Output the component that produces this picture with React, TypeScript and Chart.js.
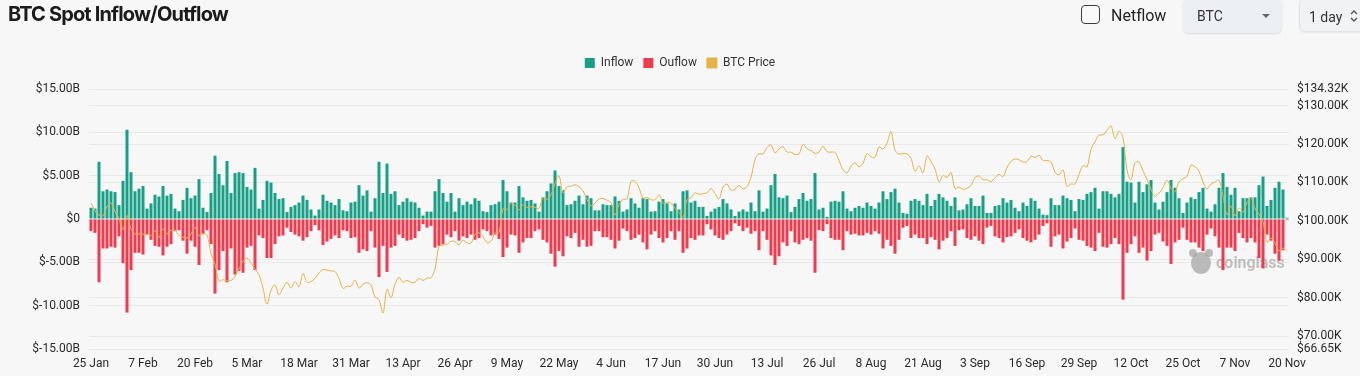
import React, { useEffect, useRef } from 'react';
import { Chart, registerables } from 'chart.js';

Chart.register(...registerables);

// ---------- data ----------
const START_DATE = '2025-01-25';
const MONTH_NAMES = ['Jan', 'Feb', 'Mar', 'Apr', 'May', 'Jun', 'Jul', 'Aug', 'Sep', 'Oct', 'Nov', 'Dec'];

// daily spot inflow, $ billions
const INFLOW = [
  1.3, 1.2, 6.6, 3.2, 3.4, 3.2, 3.1, 1.6, 4.4, 10.3,
  5.4, 3.2, 3.5, 3.8, 1.2, 1.8, 2.8, 2.6, 3.8, 2.7,
  2.9, 1.2, 0.9, 2.2, 3.6, 2.4, 2.7, 4.6, 1.3, 0.8,
  3.0, 7.3, 5.2, 3.9, 6.7, 3.0, 5.3, 5.4, 5.3, 3.7,
  3.4, 5.9, 1.2, 2.2, 4.4, 4.2, 3.0, 2.3, 2.4, 0.8,
  1.4, 1.6, 1.9, 2.7, 2.2, 1.1, 0.4, 1.1, 2.8, 2.1,
  1.9, 1.6, 2.3, 1.0, 0.9, 1.9, 2.0, 3.9,
  2.7, 3.3, 0.85, 2.4, 6.6, 3.0, 6.4, 2.9, 3.2, 1.6,
  2.0, 2.4, 2.0, 1.9, 1.3, 0.4, 0.85, 0.85, 3.2, 4.6,
  3.0, 2.0, 3.0, 0.85, 2.4, 1.6, 2.0, 1.7, 2.4, 2.1,
  0.9, 0.8, 1.6, 1.7, 2.0, 4.5, 3.2, 1.9, 1.9, 3.8,
  2.5, 2.1, 2.2, 1.8, 0.85, 2.5, 3.2, 4.1, 5.6, 3.8,
  3.3, 1.6, 1.7, 2.1, 2.7, 1.7, 2.7, 2.4, 1.0, 1.0,
  1.7, 1.6, 1.6, 2.6, 2.1, 0.85, 1.1, 2.4, 1.8, 1.3,
  2.4, 2.3, 0.85, 0.9, 2.0,
  2.3, 1.8, 0.9, 1.8, 1.1, 3.2, 3.3, 1.9, 2.1, 1.4,
  1.4, 0.35, 0.85, 1.2, 1.4, 2.3, 1.8, 1.1, 0.35, 0.85,
  1.1, 0.85, 1.9, 0.9, 3.3, 0.85, 1.2, 3.9, 5.2, 2.5,
  2.4, 2.7, 0.8, 1.4, 2.3, 3.0, 2.1, 2.3, 5.3, 1.1,
  1.3, 0.25, 2.0, 2.1, 2.0, 3.2, 1.2, 0.9, 1.3, 1.5,
  1.3, 1.9, 1.5, 1.2, 1.9, 3.2, 2.3, 3.1, 3.5, 1.9,
  0.7, 0.6, 2.1, 2.3, 2.1, 1.6, 2.9, 1.5, 2.2, 2.9,
  2.5, 2.1, 1.5, 2.5, 1.0, 1.1,
  1.7, 2.4, 1.5, 1.5, 2.7, 0.7, 0.7, 1.5, 1.6, 2.4,
  1.9, 2.2, 1.3, 0.9, 1.9, 1.5, 2.4, 2.1, 1.2, 0.5,
  0.45, 2.4, 1.6, 1.6, 2.7, 2.4, 2.2, 0.9, 2.3, 2.2,
  2.9, 3.1, 3.6, 1.2, 3.2, 3.2, 2.9, 2.5, 2.9, 8.3,
  4.3, 4.2, 1.9, 4.3, 3.1, 4.0, 4.5, 1.9, 1.1, 2.0,
  3.1, 4.5, 3.6, 2.4, 0.7, 1.9, 2.5, 2.3, 3.1, 3.6,
  1.2, 0.85, 1.7, 3.6, 5.3, 3.7, 2.8, 3.6, 0.9, 2.4,
  2.4, 2.5, 2.5, 3.9,
  4.9, 1.5, 2.2, 3.6, 4.3, 3.4, 0.15,
];

// daily spot outflow, $ billions (negative)
const OUTFLOW = [
  -1.4, -1.6, -7.3, -3.4, -3.4, -3.2, -3.3, -2.0, -5.1, -10.8,
  -5.9, -3.9, -3.9, -4.1, -1.8, -2.4, -3.1, -3.2, -4.2, -3.2,
  -2.9, -1.4, -1.3, -2.5, -4.0, -2.5, -3.2, -5.3, -1.7, -1.3,
  -2.9, -8.6, -5.9, -3.7, -7.3, -3.4, -6.4, -6.0, -6.2, -3.3,
  -3.1, -5.9, -1.9, -2.2, -4.5, -4.5, -2.9, -2.0, -1.9, -1.0,
  -1.5, -1.8, -2.0, -2.5, -2.1, -1.4, -0.7, -1.3, -3.0, -2.6,
  -2.3, -1.9, -2.2, -1.3, -1.4, -2.2, -2.1, -3.9,
  -3.5, -3.7, -1.4, -3.3, -6.7, -3.1, -6.1, -3.3, -3.1, -1.8,
  -2.2, -2.5, -2.4, -2.2, -1.4, -0.6, -1.0, -0.8, -3.3, -3.1,
  -2.9, -1.8, -2.1, -1.4, -2.5, -2.0, -2.2, -1.8, -2.4, -2.2,
  -1.2, -1.4, -1.9, -1.8, -2.3, -4.4, -3.3, -1.8, -1.9, -3.9,
  -2.7, -2.2, -2.2, -1.4, -1.2, -2.4, -2.7, -4.0, -5.5, -3.7,
  -4.3, -2.0, -2.2, -1.6, -3.2, -2.4, -3.2, -3.1, -1.4, -1.4,
  -2.1, -2.1, -2.4, -3.4, -2.5, -1.1, -1.4, -2.4, -2.2, -1.8,
  -2.7, -3.5, -1.8, -1.4, -2.2,
  -2.7, -2.2, -1.4, -2.4, -1.4, -3.9, -3.4, -2.2, -2.4, -1.9,
  -1.9, -0.6, -1.2, -1.9, -2.2, -2.4, -1.8, -1.4, -0.5, -0.8,
  -1.4, -1.0, -1.7, -1.4, -3.6, -1.4, -2.4, -4.2, -5.3, -4.3,
  -2.7, -3.1, -1.4, -2.7, -2.9, -2.4, -2.2, -2.5, -6.2, -1.3,
  -1.4, -0.6, -2.2, -2.4, -2.4, -3.6, -1.4, -1.8, -1.7, -1.9,
  -1.9, -1.6, -1.8, -1.4, -1.7, -3.4, -2.4, -3.1, -4.0, -2.4,
  -1.0, -0.8, -2.2, -1.8, -2.2, -2.2, -2.9, -2.1, -2.4, -3.5,
  -2.5, -2.2, -1.4, -3.1, -1.3, -1.2,
  -2.2, -2.4, -2.0, -2.5, -2.9, -1.0, -0.8, -2.0, -2.2, -2.7,
  -2.1, -2.0, -1.6, -1.2, -2.2, -2.5, -2.7, -2.4, -1.8, -0.8,
  -0.5, -3.2, -2.0, -1.8, -3.4, -2.6, -2.2, -1.1, -2.4, -2.5,
  -3.1, -3.3, -3.7, -1.6, -3.2, -3.3, -2.9, -2.2, -2.9, -9.3,
  -3.9, -2.9, -2.0, -3.9, -3.3, -4.8, -3.7, -1.8, -1.6, -2.6,
  -3.1, -5.2, -2.7, -2.4, -1.0, -2.4, -2.7, -2.7, -3.3, -3.7,
  -1.8, -1.1, -2.0, -3.3, -5.9, -3.3, -3.3, -3.7, -1.6, -2.2,
  -2.7, -2.2, -2.7, -4.5,
  -5.7, -1.8, -2.5, -4.0, -4.8, -3.6, -0.1,
];

// BTC price, $ thousands
const BTC_PRICE = [
  104.7, 102.6, 101.5, 101.3, 103.7, 104.7, 102.4,
  100.6, 97.7, 101.4, 97.9, 96.6, 96.6, 96.5, 96.5, 96.1, 97.4, 95.7, 97.9, 96.6, 97.5, 97.6, 96.2, 95.8, 95.5, 96.6, 98.3, 96.1, 96.6, 96.3, 91.5, 88.7, 84.3, 84.7, 84.4,
  84.5, 85.5, 87.5, 89.5, 90.3, 89.0, 87.5, 86.0, 82.5, 78.3, 82.0, 83.3, 80.8, 82.5, 84.0, 82.5, 84.2, 82.8, 86.3, 84.0, 84.2, 85.0, 86.5, 87.3, 87.2, 87.0, 86.8, 85.0, 82.4, 83.0, 83.0,
  84.6, 82.5, 83.5, 83.9, 83.3, 80.2, 79.5, 76.0, 82.2, 80.0, 83.5, 85.3, 84.0, 84.5, 84.0, 84.0, 85.0, 84.5, 85.1, 85.2, 87.5, 93.4, 93.7, 93.9, 94.7, 94.6, 93.8, 95.0, 94.3, 94.2,
  96.5, 96.9, 95.9, 94.3, 94.7, 96.8, 97.0, 103.2, 102.9, 104.6, 104.1, 102.8, 104.2, 103.5, 103.7, 103.5, 103.2, 106.0, 105.6, 106.8, 109.7, 111.7, 107.3, 108.9, 109.0, 109.4, 108.9, 107.8, 105.6, 103.9, 104.6,
  105.7, 105.8, 105.4, 104.7, 101.5, 104.3, 105.6, 105.7, 110.3, 110.3, 108.6, 105.9, 106.1, 105.5, 105.5, 106.8, 104.6, 104.9, 104.6, 103.3, 102.2, 100.9, 105.4, 106.0, 107.3, 106.9, 107.1, 107.3, 108.4, 107.1,
  105.7, 108.8, 109.6, 108.0, 108.2, 109.2, 108.3, 108.9, 111.3, 115.9, 117.5, 117.4, 119.1, 119.8, 117.7, 118.7, 119.3, 117.9, 117.9, 117.3, 117.4, 119.9, 118.8, 118.3, 117.6, 117.9, 119.4, 118.0, 117.9, 117.8, 115.7,
  113.3, 112.5, 114.2, 115.1, 114.1, 115.0, 117.5, 116.7, 116.5, 119.3, 118.7, 120.2, 123.3, 118.4, 117.4, 117.5, 117.4, 116.3, 112.9, 114.3, 112.5, 116.9, 115.4, 113.5, 110.1, 111.8, 111.3, 112.6, 108.4, 108.8, 108.2,
  108.5, 109.2, 111.2, 111.7, 110.7, 110.7, 110.2, 111.2, 112.1, 111.5, 113.9, 115.5, 116.1, 115.9, 115.3, 115.4, 116.8, 116.5, 117.1, 115.7, 115.7, 115.3, 112.7, 112.0, 113.3, 109.0, 109.6, 109.6, 112.1, 114.4,
  114.0, 118.6, 120.6, 122.3, 122.4, 123.5, 124.7, 121.4, 123.3, 121.7, 113.2, 110.7, 115.1, 115.3, 113.0, 110.8, 108.2, 106.4, 107.2, 108.6, 110.6, 108.5, 107.6, 110.1, 111.0, 111.6, 114.5, 114.1, 112.9, 110.1, 108.3,
  109.6, 110.1, 110.6, 106.5, 101.6, 103.9, 101.3, 103.4, 102.3, 104.7, 106.0, 103.1, 101.7, 99.7, 94.4, 95.5, 94.2, 92.2, 92.9, 92.0,
];

const X_TICK_LABELS = [
  '25 Jan', '7 Feb', '20 Feb', '5 Mar', '18 Mar', '31 Mar', '13 Apr', '26 Apr', '9 May', '22 May',
  '4 Jun', '17 Jun', '30 Jun', '13 Jul', '26 Jul', '8 Aug', '21 Aug', '3 Sep', '16 Sep', '29 Sep',
  '12 Oct', '25 Oct', '7 Nov', '20 Nov',
];
const LEFT_TICKS = [-15, -10, -5, 0, 5, 10, 15];
const RIGHT_TICKS = [66.65, 70, 80, 90, 100, 110, 120, 130, 134.32];

function buildCategories(n: number): string[] {
  const out: string[] = [];
  const d = new Date(START_DATE + 'T00:00:00Z');
  for (let i = 0; i < n; i++) {
    out.push(`${d.getUTCDate()} ${MONTH_NAMES[d.getUTCMonth()]}`);
    d.setUTCDate(d.getUTCDate() + 1);
  }
  return out;
}
const CATEGORIES = buildCategories(INFLOW.length);
const X_TICK_SET = new Set(X_TICK_LABELS);

// ---------- style ----------
const BG = '#f7f7f7';
const TEAL = '#17a086';
const RED = '#ef3b4e';
const GOLD = '#e6b24a';
const GRID = '#e9e9e9';
const TICK_COLOR = '#2a2a2a';
const FONT = 'Roboto, "Noto Sans", sans-serif';

const legendSpacer = {
  id: 'legendSpacer',
  beforeUpdate(chart: any) {
    const lg = chart.legend;
    if (lg && !lg.__spaced) {
      const orig = lg.fit.bind(lg);
      lg.fit = function () {
        orig();
        this.height += 10;
      };
      lg.__spaced = true;
    }
  },
};

const watermark = {
  id: 'watermark',
  beforeDatasetsDraw(chart: any) {
    const ctx = chart.ctx;
    ctx.save();
    ctx.fillStyle = 'rgba(165,165,165,0.75)';
    ctx.beginPath();
    ctx.ellipse(1201, 263, 10, 11, 0, 0, Math.PI * 2);
    ctx.fill();
    ctx.beginPath();
    ctx.ellipse(1193, 253, 4, 4, 0, 0, Math.PI * 2);
    ctx.ellipse(1209, 253, 4, 4, 0, 0, Math.PI * 2);
    ctx.fill();
    ctx.fillStyle = 'rgba(170,170,170,0.75)';
    ctx.font = `600 16px ${FONT}`;
    ctx.textBaseline = 'alphabetic';
    ctx.fillText('coinglass', 1216, 268);
    ctx.restore();
  },
};

export default function App() {
  const canvasRef = useRef<HTMLCanvasElement>(null);

  useEffect(() => {
    document.body.style.margin = '0';
    document.body.style.background = BG;
    const chart = new Chart(canvasRef.current as HTMLCanvasElement, {
      type: 'bar',
      data: {
        labels: CATEGORIES,
        datasets: [
          {
            type: 'bar',
            label: 'Inflow',
            data: INFLOW,
            backgroundColor: TEAL,
            borderWidth: 0,
            yAxisID: 'y',
            grouped: false,
            barPercentage: 0.75,
            categoryPercentage: 1,
            order: 1,
          },
          {
            type: 'bar',
            label: 'Ouflow',
            data: OUTFLOW,
            backgroundColor: RED,
            borderWidth: 0,
            yAxisID: 'y',
            grouped: false,
            barPercentage: 0.75,
            categoryPercentage: 1,
            order: 1,
          },
          {
            type: 'line',
            label: 'BTC Price',
            data: BTC_PRICE,
            borderColor: GOLD,
            backgroundColor: GOLD,
            borderWidth: 1,
            pointRadius: 0,
            tension: 0.35,
            yAxisID: 'y1',
            order: 0,
          },
        ],
      } as any,
      options: {
        animation: false,
        responsive: false,
        maintainAspectRatio: false,
        layout: { padding: { top: 47, bottom: 5, left: 0, right: 0 } },
        plugins: {
          legend: {
            position: 'top',
            align: 'center',
            labels: {
              boxWidth: 10,
              boxHeight: 10,
              padding: 10,
              color: '#333',
              font: { family: FONT, size: 12 },
              sort: (a: any, b: any) => a.datasetIndex - b.datasetIndex,
            },
          },
          tooltip: { enabled: false },
        },
        scales: {
          x: {
            grid: { display: false, drawTicks: false },
            border: { display: false },
            afterFit: (s: any) => {
              s.height = 22;
            },
            ticks: {
              autoSkip: false,
              maxRotation: 0,
              minRotation: 0,
              padding: 8,
              color: TICK_COLOR,
              font: { family: FONT, size: 12 },
              callback: (_v: any, i: number) => (X_TICK_SET.has(CATEGORIES[i]) ? CATEGORIES[i] : ''),
            },
          },
          y: {
            position: 'left',
            min: -15,
            max: 15,
            afterBuildTicks: (s: any) => {
              s.ticks = LEFT_TICKS.map((v) => ({ value: v }));
            },
            afterFit: (s: any) => {
              s.width = 89;
            },
            grid: { color: GRID, drawTicks: false },
            border: { display: false },
            ticks: {
              padding: 9,
              color: TICK_COLOR,
              font: { family: FONT, size: 12 },
              callback: (v: any) => (Number(v) === 0 ? '$0' : `$${Number(v).toFixed(2)}B`),
            },
          },
          y1: {
            position: 'right',
            min: 66.65,
            max: 134.32,
            afterBuildTicks: (s: any) => {
              s.ticks = RIGHT_TICKS.map((v) => ({ value: v }));
            },
            afterFit: (s: any) => {
              s.width = 71;
            },
            grid: { color: GRID, drawTicks: false },
            border: { display: false },
            ticks: {
              padding: 8,
              color: TICK_COLOR,
              font: { family: FONT, size: 12 },
              callback: (v: any) => `$${Number(v).toFixed(2)}K`,
            },
          },
        },
      } as any,
      plugins: [legendSpacer, watermark],
    });
    return () => chart.destroy();
  }, []);

  return (
    <div
      style={{
        position: 'relative',
        width: 1360,
        height: 376,
        background: BG,
        overflow: 'hidden',
        fontFamily: FONT,
      }}
    >
      <canvas
        ref={canvasRef}
        width={1360}
        height={376}
        style={{ position: 'absolute', left: 0, top: 0, width: 1360, height: 376 }}
      />
      <div
        style={{
          position: 'absolute',
          left: 8,
          top: 2,
          fontFamily: 'Inter, sans-serif',
          fontWeight: 700,
          fontSize: 20,
          lineHeight: '24px',
          letterSpacing: -0.85,
          color: '#1b1b1b',
          whiteSpace: 'nowrap',
        }}
      >
        BTC Spot Inflow/Outflow
      </div>
      <div
        style={{
          position: 'absolute',
          left: 1081,
          top: 5,
          width: 17,
          height: 17,
          border: '1.5px solid #3c3c3c',
          borderRadius: 4,
          background: '#f9f9f9',
        }}
      />
      <div
        style={{
          position: 'absolute',
          left: 1111,
          top: 6,
          fontSize: 16,
          lineHeight: '20px',
          color: '#222',
          whiteSpace: 'nowrap',
        }}
      >
        Netflow
      </div>
      <div
        style={{
          position: 'absolute',
          left: 1183,
          top: -2,
          width: 99,
          height: 35,
          background: '#edf0f3',
          borderRadius: 6,
          boxShadow: '0 1px 2px rgba(0,0,0,0.12)',
        }}
      >
        <div
          style={{
            position: 'absolute',
            left: 14,
            top: 9,
            fontSize: 14,
            lineHeight: '18px',
            color: '#333',
          }}
        >
          BTC
        </div>
        <div
          style={{
            position: 'absolute',
            left: 79,
            top: 16,
            width: 0,
            height: 0,
            borderLeft: '4px solid transparent',
            borderRight: '4px solid transparent',
            borderTop: '4px solid #666',
          }}
        />
      </div>
      <div
        style={{
          position: 'absolute',
          left: 1299,
          top: -2,
          width: 80,
          height: 32,
          background: '#f1f2f4',
          border: '1px solid #e2e3e6',
          borderRadius: 6,
          boxShadow: '0 1px 2px rgba(0,0,0,0.06)',
        }}
      >
        <div
          style={{
            position: 'absolute',
            left: 9,
            top: 9,
            fontSize: 14,
            lineHeight: '18px',
            color: '#333',
            whiteSpace: 'nowrap',
          }}
        >
          1 day
        </div>
        <svg
          width="10"
          height="16"
          viewBox="0 0 10 16"
          style={{ position: 'absolute', left: 49, top: 9 }}
        >
          <path d="M2 6 L5 3 L8 6" stroke="#555" strokeWidth="1.4" fill="none" />
          <path d="M2 10 L5 13 L8 10" stroke="#555" strokeWidth="1.4" fill="none" />
        </svg>
      </div>
    </div>
  );
}
